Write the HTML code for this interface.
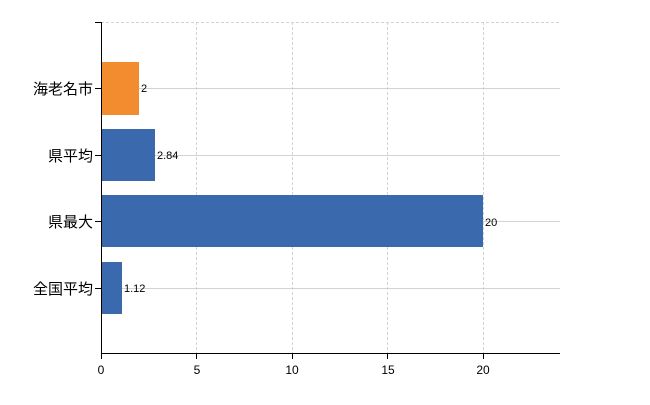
<!DOCTYPE html><html><head><meta charset="utf-8"><style>body{margin:0;background:#fff}svg text{font-family:"Liberation Sans","Noto Sans CJK JP",sans-serif}</style></head><body>
<svg width="650" height="400" xmlns="http://www.w3.org/2000/svg">
<g stroke="#d3d3d3" stroke-width="1">
<line x1="101" y1="22.5" x2="560" y2="22.5" stroke-dasharray="3,2"/>
<line x1="196.5" y1="22" x2="196.5" y2="354" stroke-dasharray="3,2"/>
<line x1="292.5" y1="22" x2="292.5" y2="354" stroke-dasharray="3,2"/>
<line x1="387.5" y1="22" x2="387.5" y2="354" stroke-dasharray="3,2"/>
<line x1="483.5" y1="22" x2="483.5" y2="354" stroke-dasharray="3,2"/>
<line x1="101" y1="88.5" x2="560" y2="88.5"/>
<line x1="101" y1="155.5" x2="560" y2="155.5"/>
<line x1="101" y1="221.5" x2="560" y2="221.5"/>
<line x1="101" y1="288.5" x2="560" y2="288.5"/>
</g>
<rect x="101" y="62" width="38" height="53" fill="#f28c2e"/>
<rect x="101" y="129" width="54" height="52" fill="#3a6aad"/>
<rect x="101" y="195" width="382" height="52" fill="#3a6aad"/>
<rect x="101" y="262" width="21" height="52" fill="#3a6aad"/>
<g stroke="#000" stroke-width="1">
<line x1="101.5" y1="22" x2="101.5" y2="354"/>
<line x1="101" y1="353.5" x2="560" y2="353.5"/>
<line x1="95" y1="22.5" x2="101" y2="22.5"/>
<line x1="95" y1="88.5" x2="101" y2="88.5"/>
<line x1="95" y1="155.5" x2="101" y2="155.5"/>
<line x1="95" y1="221.5" x2="101" y2="221.5"/>
<line x1="95" y1="288.5" x2="101" y2="288.5"/>
<line x1="101.5" y1="354" x2="101.5" y2="359"/>
<line x1="196.5" y1="354" x2="196.5" y2="359"/>
<line x1="292.5" y1="354" x2="292.5" y2="359"/>
<line x1="387.5" y1="354" x2="387.5" y2="359"/>
<line x1="483.5" y1="354" x2="483.5" y2="359"/>
</g>
<g font-size="15" text-anchor="end" fill="#000">
<text x="93" y="94">海老名市</text>
<text x="93" y="161">県平均</text>
<text x="93" y="227">県最大</text>
<text x="93" y="294">全国平均</text>
</g>
<g font-size="11" fill="#000">
<text x="141" y="92">2</text>
<text x="157" y="159">2.84</text>
<text x="485" y="226">20</text>
<text x="124" y="292">1.12</text>
</g>
<g font-size="12" text-anchor="middle" fill="#000">
<text x="101" y="374">0</text>
<text x="197" y="374">5</text>
<text x="292" y="374">10</text>
<text x="388" y="374">15</text>
<text x="483" y="374">20</text>
</g>
</svg></body></html>
